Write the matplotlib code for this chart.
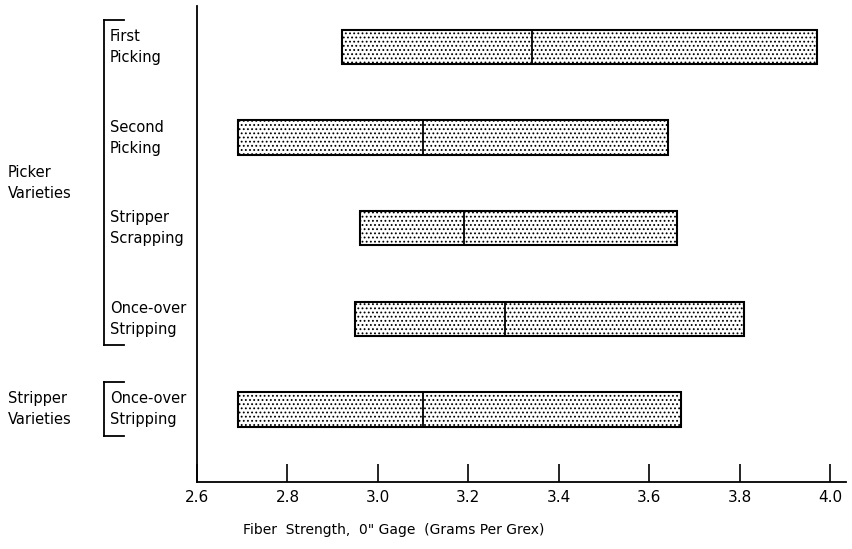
import matplotlib
matplotlib.use("Agg")
import matplotlib.pyplot as plt
from matplotlib.transforms import blended_transform_factory
from matplotlib.lines import Line2D

# fiber strength ranges (low, median, high)
categories = ["First\nPicking", "Second\nPicking", "Stripper\nScrapping",
              "Once-over\nStripping", "Once-over\nStripping"]
low = [2.92, 2.69, 2.96, 2.95, 2.69]
median = [3.34, 3.10, 3.19, 3.28, 3.10]
high = [3.97, 3.64, 3.66, 3.81, 3.67]
xticks = [2.6, 2.8, 3.0, 3.2, 3.4, 3.6, 3.8, 4.0]
groups = ["Picker\nVarieties", "Stripper\nVarieties"]
group_members = [[0, 1, 2, 3], [4]]

plt.rcParams["font.family"] = ["DejaVu Sans"]
plt.rcParams["hatch.color"] = "#555555"
plt.rcParams["hatch.linewidth"] = 0.8

fig = plt.figure(figsize=(8.52, 5.49), dpi=100)
ax = fig.add_axes([0.2312, 0.122, 0.762, 0.867])

pos = list(range(len(categories)))
widths = [h - l for l, h in zip(low, high)]
ax.barh(pos, widths, left=low, height=0.38, facecolor="white",
        edgecolor="black", linewidth=1.5, hatch="....")
for y, m in zip(pos, median):
    ax.plot([m, m], [y - 0.19, y + 0.19], color="black", lw=1.3)

ax.set_xlim(2.6, 4.035)
ax.set_ylim(4.8, -0.45)
ax.set_xticks(xticks)
ax.set_xticklabels([f"{t:.1f}" for t in xticks], fontsize=11)
ax.set_yticks([])
ax.tick_params(axis="x", direction="in", length=13, width=1.2, pad=6)
for s in ["top", "right"]:
    ax.spines[s].set_visible(False)
ax.spines["left"].set_linewidth(1.3)
ax.spines["bottom"].set_linewidth(1.3)

fig.text(0.462, 1 - 530 / 549, 'Fiber  Strength,  0" Gage  (Grams Per Grex)',
         ha="center", va="center", fontsize=10)

tr = blended_transform_factory(fig.transFigure, ax.transData)
for y, name in zip(pos, categories):
    ax.text(0.129, y, name, transform=tr, ha="left", va="center",
            fontsize=10.5, linespacing=1.5)

for g, members in zip(groups, group_members):
    top = members[0] - 0.3
    bot = members[-1] + 0.29
    bx = 0.122
    for line in ([bx, bx], [top, bot]), ([bx, bx + 0.024], [top, top]), ([bx, bx + 0.024], [bot, bot]):
        fig.add_artist(Line2D(line[0], line[1], transform=tr, color="black", lw=1.3))
    mid = (members[0] + members[-1]) / 2
    ax.text(0.009, mid, g, transform=tr, ha="left", va="center",
            fontsize=10.5, linespacing=1.5)

fig.savefig("out.png", dpi=100)
